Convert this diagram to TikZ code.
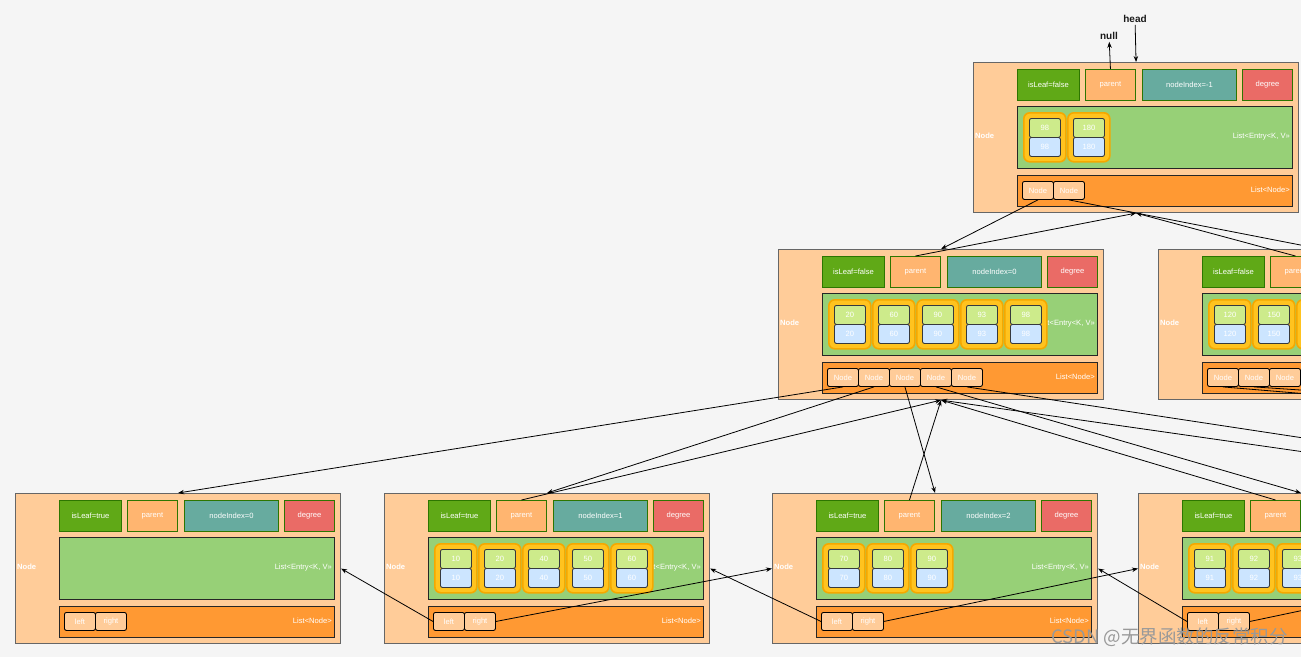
\documentclass[tikz,border=0pt]{standalone}
\usepackage{fontspec}
\setmainfont{Liberation Sans}
\newfontfamily\cjkfont{Noto Sans CJK SC}
\usetikzlibrary{arrows.meta}

\definecolor{bggray}{HTML}{F5F5F5}
\definecolor{nodepeach}{HTML}{FFCC99}
\definecolor{outeredge}{HTML}{666666}
\definecolor{leafgreen}{HTML}{60A917}
\definecolor{fieldedge}{HTML}{2D7600}
\definecolor{parentfill}{HTML}{FFB570}
\definecolor{indexteal}{HTML}{67AB9F}
\definecolor{degreered}{HTML}{EA6B66}
\definecolor{entrygreen}{HTML}{97D077}
\definecolor{listorange}{HTML}{FF9933}
\definecolor{cellyellow}{HTML}{FFC31F}
\definecolor{cellorange}{HTML}{F5A800}
\definecolor{celledge}{HTML}{36393D}
\definecolor{keygreen}{HTML}{CDEB8B}
\definecolor{valblue}{HTML}{CCE5FF}

\begin{document}
\begin{tikzpicture}[x=1pt, y=-1pt, every node/.style={inner sep=0pt, text=white, font=\fontsize{7.6}{8}\selectfont}]
	\tikzset{
		outerbox/.style={draw=outeredge, fill=nodepeach, line width=1.1pt, minimum width=325pt, minimum height=150pt, anchor=north west},
		field/.style={draw=fieldedge, line width=0.9pt, minimum height=31pt, anchor=north west},
		listbox/.style={draw=black!85, line width=1.2pt, minimum width=275pt, anchor=north west},
		entrybox/.style={draw=cellorange, fill=cellyellow, line width=1.6pt, rounded corners=6pt, minimum width=42pt, minimum height=49pt, anchor=north west},
		keybox/.style={draw=celledge, fill=keygreen, line width=0.9pt, rounded corners=2pt, minimum width=31pt, minimum height=19pt, anchor=north west},
		valbox/.style={keybox, fill=valblue},
		kidbox/.style={draw=black, fill=nodepeach, line width=0.9pt, rounded corners=2pt, minimum width=31pt, minimum height=18pt, anchor=north west},
		nodelabel/.style={anchor=west, font=\bfseries\fontsize{7.6}{8}\selectfont},
		ptrlabel/.style={inner sep=2pt, text=black!90, font=\bfseries\fontsize{10}{12}\selectfont},
		link/.style={-{Stealth[length=6pt,width=4.5pt]}, line width=0.8pt, black}
	}
	\useasboundingbox[fill=bggray] (0,0) rectangle (1301,657);
	\clip (0,0) rectangle (1301,657);

	% tree nodes
	\foreach \b/\x/\y/\leaf/\idx in {
		t/973/62/false/-1,
		m0/778/249/false/0,
		m1/1158/249/false/{},
		b0/15/493/true/0,
		b1/384/493/true/1,
		b2/772/493/true/2,
		b3/1138/493/true/{}} {
		\node[outerbox] (\b-o) at (\x,\y) {};
		\node[nodelabel] at ({\x+2},{\y+74}) {Node};
		\node[field, fill=leafgreen, minimum width=62pt] (\b-l) at ({\x+44},{\y+7}) {isLeaf=\leaf};
		\node[field, fill=parentfill, minimum width=50pt] (\b-p) at ({\x+112},{\y+7}) {parent};
		\node[field, fill=indexteal, minimum width=94pt] (\b-i) at ({\x+169},{\y+7}) {nodeIndex=\idx};
		\node[field, fill=degreered, minimum width=50pt] (\b-d) at ({\x+269},{\y+7}) {degree};
		\node[listbox, fill=entrygreen, minimum height=62pt] (\b-e) at ({\x+44},{\y+44}) {};
		\node[anchor=east] at ({\x+317},{\y+75}) {List<Entry<K, V>>};
		\node[listbox, fill=listorange, minimum height=31pt] (\b-k) at ({\x+44},{\y+113}) {};
		\node[anchor=east] at ({\x+317},{\y+128}) {List<Node>};
	}

	% entries
	\foreach \b/\x/\y/\vals in {
		t/973/62/{98,180},
		m0/778/249/{20,60,90,93,98},
		m1/1158/249/{120,150,{}},
		b1/384/493/{10,20,40,50,60},
		b2/772/493/{70,80,90},
		b3/1138/493/{91,92,93}} {
		\foreach \v [count=\i] in \vals {
			\node[entrybox] (\b-s\i) at ({\x+50+44*(\i-1)},{\y+50}) {};
			\node[keybox] at ({\x+56+44*(\i-1)},{\y+56}) {\v};
			\node[valbox] at ({\x+56+44*(\i-1)},{\y+75}) {\v};
		}
	}

	% child pointers
	\foreach \b/\x/\y/\kids in {
		t/973/62/{Node,Node},
		m0/778/249/{Node,Node,Node,Node,Node},
		m1/1158/249/{Node,Node,Node},
		b0/15/493/{left,right},
		b1/384/493/{left,right},
		b2/772/493/{left,right},
		b3/1138/493/{left,right}} {
		\foreach \k [count=\i] in \kids
			\node[kidbox] (\b-c\i) at ({\x+49+31*(\i-1)},{\y+119}) {\k};
	}

	\node[ptrlabel] (head) at (1135,19) {head};
	\node[ptrlabel] (null) at (1109,36) {null};
	\coordinate (b4-top) at (1666,493);
	\coordinate (b4-par) at (1641,500);
	\coordinate (b4-west) at (1504,568);
	\coordinate (m1-far1) at (2100,460);
	\coordinate (m1-far2) at (2200,450);

	\foreach \from/\to in {
		head/t-o.north, t-p.north/null,
		t-c1.south/m0-o.north, m0-p.north/t-o.south,
		t-c2.south/m1-o.north, m1-p.north/t-o.south,
		m0-c1.south/b0-o.north,
		m0-c2.south/b1-o.north, b1-p.north/m0-o.south,
		m0-c3.south/b2-o.north, b2-p.north/m0-o.south,
		m0-c4.south/b3-o.north, b3-p.north/m0-o.south,
		m0-c5.south/b4-top, b4-par/m0-o.south,
		m1-c1.south/m1-far1, m1-c2.south/m1-far2,
		b1-c1.west/b0-o.east, b1-c2.east/b2-o.west,
		b2-c1.west/b1-o.east, b2-c2.east/b3-o.west,
		b3-c1.west/b2-o.east, b3-c2.east/b4-west}
	\draw[link] (\from) -- (\to);

	\node[anchor=east, text=black!40, font=\cjkfont\fontsize{18.5}{20}\selectfont] (mark) at (1288,637) {CSDN @无界函数的反常积分};
\end{tikzpicture}
\end{document}
